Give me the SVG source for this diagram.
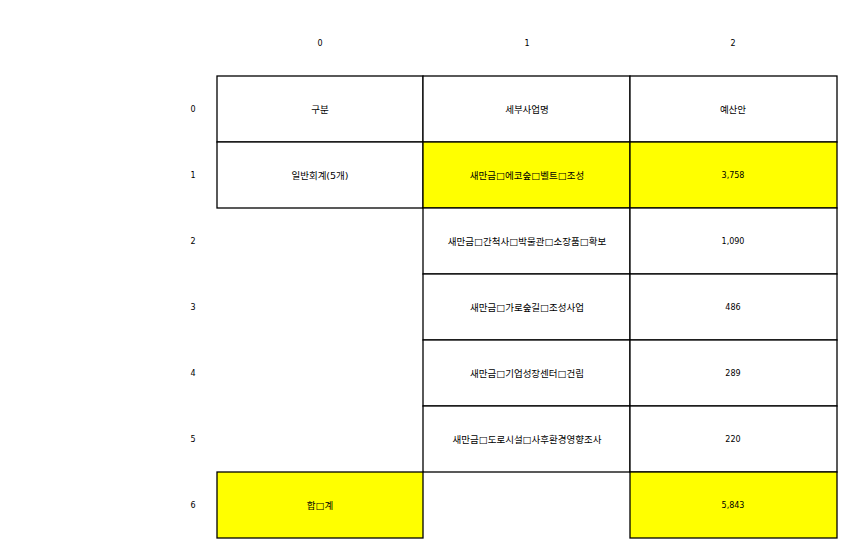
<svg xmlns="http://www.w3.org/2000/svg" width="846" height="548" viewBox="0 0 846 548">
<style>
.c{stroke:#000;stroke-width:1.3}
.w{fill:#fff}
.y{fill:#ffff00}
text{font-family:"DejaVu Sans","Noto Sans CJK KR",sans-serif;font-size:9.5px;fill:#000;text-anchor:middle;dominant-baseline:central}
.n{font-size:8px}
</style>
<rect width="846" height="548" fill="#fff"/>
<g id="col-headers">
<text class="n" x="320" y="43">0</text>
<text class="n" x="527" y="43">1</text>
<text class="n" x="733" y="43">2</text>
</g>
<g id="row-headers">
<text class="n" x="193" y="109">0</text>
<text class="n" x="193" y="175">1</text>
<text class="n" x="193" y="241">2</text>
<text class="n" x="193" y="307">3</text>
<text class="n" x="193" y="373">4</text>
<text class="n" x="193" y="439">5</text>
<text class="n" x="193" y="505">6</text>
</g>
<g id="r0c0"><rect class="c w" x="217" y="76" width="206" height="66"/><text x="320" y="109">구분</text></g>
<g id="r0c1"><rect class="c w" x="423" y="76" width="207" height="66"/><text x="527" y="109">세부사업명</text></g>
<g id="r0c2"><rect class="c w" x="630" y="76" width="207" height="66"/><text x="733" y="109">예산안</text></g>
<g id="r1c0"><rect class="c w" x="217" y="142" width="206" height="66"/><text x="320" y="175">일반회계(5개)</text></g>
<g id="r1c1"><rect class="c y" x="423" y="142" width="207" height="66"/><text x="527" y="175">새만금□에코숲□벨트□조성</text></g>
<g id="r1c2"><rect class="c y" x="630" y="142" width="207" height="66"/><text class="n" x="733" y="175">3,758</text></g>
<g id="r2c1"><rect class="c w" x="423" y="208" width="207" height="66"/><text x="527" y="241">새만금□간척사□박물관□소장품□확보</text></g>
<g id="r2c2"><rect class="c w" x="630" y="208" width="207" height="66"/><text class="n" x="733" y="241">1,090</text></g>
<g id="r3c1"><rect class="c w" x="423" y="274" width="207" height="66"/><text x="527" y="307">새만금□가로숲길□조성사업</text></g>
<g id="r3c2"><rect class="c w" x="630" y="274" width="207" height="66"/><text class="n" x="733" y="307">486</text></g>
<g id="r4c1"><rect class="c w" x="423" y="340" width="207" height="66"/><text x="527" y="373">새만금□기업성장센터□건립</text></g>
<g id="r4c2"><rect class="c w" x="630" y="340" width="207" height="66"/><text class="n" x="733" y="373">289</text></g>
<g id="r5c1"><rect class="c w" x="423" y="406" width="207" height="66"/><text x="527" y="439">새만금□도로시설□사후환경영향조사</text></g>
<g id="r5c2"><rect class="c w" x="630" y="406" width="207" height="66"/><text class="n" x="733" y="439">220</text></g>
<g id="r6c0"><rect class="c y" x="217" y="472" width="206" height="66"/><text x="320" y="505">합□계</text></g>
<g id="r6c2"><rect class="c y" x="630" y="472" width="207" height="66"/><text class="n" x="733" y="505">5,843</text></g>
<g id="connectors"></g>
</svg>
